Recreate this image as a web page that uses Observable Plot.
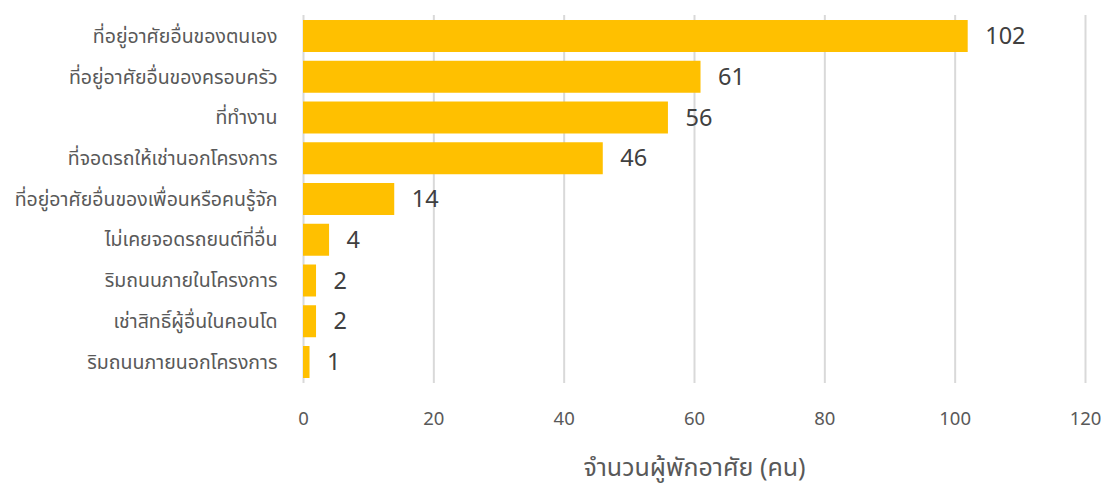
<!DOCTYPE html>
<html>
<head>
<meta charset="utf-8">
<script src="https://cdn.jsdelivr.net/npm/d3@7"></script>
<script src="https://cdn.jsdelivr.net/npm/@observablehq/plot@0.6"></script>
<style>
  html, body { margin: 0; padding: 0; background: #fff; }
  #chart { width: 1101px; height: 485px; }
</style>
</head>
<body>
<div id="chart"></div>
<script>
const categories = [
  "ที่อยู่อาศัยอื่นของตนเอง",
  "ที่อยู่อาศัยอื่นของครอบครัว",
  "ที่ทำงาน",
  "ที่จอดรถให้เช่านอกโครงการ",
  "ที่อยู่อาศัยอื่นของเพื่อนหรือคนรู้จัก",
  "ไม่เคยจอดรถยนต์ที่อื่น",
  "ริมถนนภายในโครงการ",
  "เช่าสิทธิ์ผู้อื่นในคอนโด",
  "ริมถนนภายนอกโครงการ"
];
const values = [102, 61, 56, 46, 14, 4, 2, 2, 1];
const xTicks = [0, 20, 40, 60, 80, 100, 120];
const xTitle = "จำนวนผู้พักอาศัย (คน)";

const data = categories.map((c, i) => ({category: c, value: values[i]}));
const font = "'Noto Sans Thai', 'Noto Sans', 'DejaVu Sans', sans-serif";

const chart = Plot.plot({
  width: 1101,
  height: 485,
  marginLeft: 303,
  marginRight: 16,
  marginTop: 15,
  marginBottom: 102,
  style: {fontFamily: font, background: "#fff", color: "#595959"},
  x: {domain: [0, 120], ticks: xTicks},
  y: {domain: categories, paddingInner: 0.215, paddingOuter: 0.123, round: false},
  marks: [
    Plot.gridX(xTicks, {stroke: "#d9d9d9", strokeOpacity: 1, strokeWidth: 2}),
    Plot.barX(data, {x: "value", y: "category", fill: "#FFC000"}),
    Plot.text(data, {x: "value", y: "category", text: d => String(d.value), dx: 17, textAnchor: "start", fontSize: 23.5, fill: "#404040"}),
    Plot.axisX({ticks: xTicks, tickSize: 0, tickPadding: 28, fontSize: 18.5, fill: "#595959",
      label: xTitle, labelAnchor: "center", labelArrow: "none", labelOffset: 92}),
    Plot.axisY({tickSize: 0, tickPadding: 26, fontSize: 19.5, fill: "#595959", label: null})
  ]
});
document.getElementById("chart").appendChild(chart);
d3.select(chart).selectAll("g[aria-label='x-axis label'] text").style("font-size", "25px");
</script>
</body>
</html>
